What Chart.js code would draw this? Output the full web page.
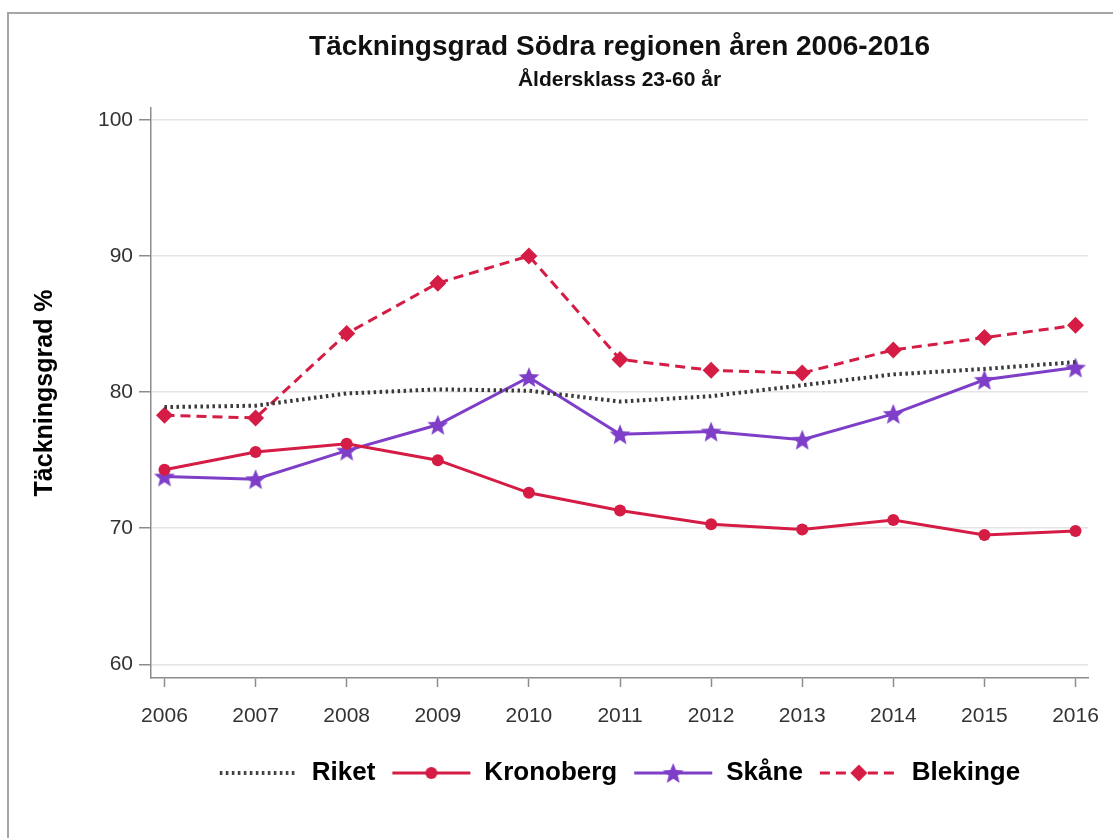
<!DOCTYPE html>
<html><head><meta charset="utf-8">
<script src="https://cdn.jsdelivr.net/npm/chart.js@4"></script>
<style>
html,body{margin:0;padding:0;background:#fff;}
#wrap{position:relative;width:1113px;height:838px;overflow:hidden;}
#frame{position:absolute;left:7px;top:12px;right:-10px;bottom:-10px;border-top:2px solid #a6a6a6;border-left:2px solid #a6a6a6;pointer-events:none;}
canvas{position:absolute;left:0;top:0;}
</style></head><body>
<div id="wrap"><canvas id="c" width="1113" height="838"></canvas><div id="frame"></div></div>
<script>
const years = [2006, 2007, 2008, 2009, 2010, 2011, 2012, 2013, 2014, 2015, 2016];
const yTicks = [60, 70, 80, 90, 100];
const riket      = [78.9, 79.0, 79.9, 80.2, 80.1, 79.3, 79.7, 80.5, 81.3, 81.7, 82.2];
const kronoberg  = [74.3, 75.6, 76.2, 75.0, 72.6, 71.3, 70.3, 69.9, 70.6, 69.5, 69.8];
const skane      = [73.8, 73.6, 75.7, 77.6, 81.1, 76.9, 77.1, 76.5, 78.4, 80.9, 81.8];
const blekinge   = [78.3, 78.1, 84.3, 88.0, 90.0, 82.4, 81.6, 81.4, 83.1, 84.0, 84.9];
const seriesNames = ['Riket', 'Kronoberg', 'Skåne', 'Blekinge'];

const RED = '#d41c44';
const PURPLE = '#7e3ec8';
const DOT = '#3a3a3a';

function starPath(ctx, cx, cy, outer, inner) {
  ctx.beginPath();
  for (let i = 0; i < 10; i++) {
    const r = i % 2 ? inner : outer;
    const a = -Math.PI / 2 + i * Math.PI / 5;
    ctx.lineTo(cx + r * Math.cos(a), cy + r * Math.sin(a));
  }
  ctx.closePath();
}
function starCanvas(color, outer, inner) {
  const c = document.createElement('canvas');
  const s = Math.ceil(outer * 2 + 2);
  c.width = s; c.height = s;
  const ctx = c.getContext('2d');
  starPath(ctx, s / 2, s / 2 + 1, outer, inner);
  ctx.fillStyle = color; ctx.fill();
  return c;
}
function legendSample(color, width, dash, marker) {
  const c = document.createElement('canvas');
  c.width = 80; c.height = 24;
  const ctx = c.getContext('2d');
  ctx.strokeStyle = color; ctx.lineWidth = width; ctx.setLineDash(dash);
  ctx.beginPath(); ctx.moveTo(1, 12); ctx.lineTo(79, 12); ctx.stroke();
  ctx.setLineDash([]);
  ctx.fillStyle = color;
  if (marker === 'circle') { ctx.beginPath(); ctx.arc(40, 12, 6, 0, Math.PI * 2); ctx.fill(); }
  if (marker === 'star') { starPath(ctx, 40, 13, 11, 4.8); ctx.fill(); }
  if (marker === 'diamond') { ctx.beginPath(); ctx.moveTo(40, 3.5); ctx.lineTo(48.5, 12); ctx.lineTo(40, 20.5); ctx.lineTo(31.5, 12); ctx.closePath(); ctx.fill(); }
  return c;
}
const starImg = starCanvas(PURPLE, 11, 4.8);
const legendImgs = [
  legendSample(DOT, 4, [2.5, 3.5], null),
  legendSample(RED, 3, [], 'circle'),
  legendSample(PURPLE, 3, [], 'star'),
  legendSample(RED, 3, [10, 6], 'diamond')
];
const pts = arr => years.map((y, i) => ({ x: y, y: arr[i] }));

new Chart(document.getElementById('c'), {
  type: 'line',
  data: {
    datasets: [
      { label: seriesNames[0], data: pts(riket), borderColor: DOT, borderWidth: 4, borderDash: [2.5, 3.5], pointRadius: 0, fill: false },
      { label: seriesNames[1], data: pts(kronoberg), borderColor: RED, backgroundColor: RED, borderWidth: 3, pointStyle: 'circle', pointRadius: 6, pointBorderWidth: 0, fill: false },
      { label: seriesNames[2], data: pts(skane), borderColor: PURPLE, backgroundColor: PURPLE, borderWidth: 3, pointStyle: starImg, pointRadius: 11, fill: false },
      { label: seriesNames[3], data: pts(blekinge), borderColor: RED, backgroundColor: RED, borderWidth: 3, borderDash: [10, 6], pointStyle: 'rectRot', pointRadius: 8.5, pointBorderWidth: 0, fill: false }
    ]
  },
  options: {
    responsive: false,
    animation: false,
    devicePixelRatio: 1,
    font: { family: "'Liberation Sans', Arial, sans-serif" },
    layout: { padding: { top: 20, left: 8, right: 25, bottom: 42 } },
    plugins: {
      tooltip: { enabled: false },
      title: { display: true, fullSize: false, text: 'Täckningsgrad Södra regionen åren 2006-2016', color: '#111', font: { size: 28, weight: 'bold' }, padding: { top: 10, bottom: 0 } },
      subtitle: { display: true, fullSize: false, text: 'Åldersklass 23-60 år', color: '#111', font: { size: 21, weight: 'bold' }, padding: { top: 4, bottom: 15 } },
      legend: {
        position: 'bottom', fullSize: false,
        labels: {
          usePointStyle: true, pointStyleWidth: 80, boxHeight: 26, padding: 16,
          color: '#000', font: { size: 26, weight: 'bold' },
          generateLabels: chart => chart.data.datasets.map((ds, i) => ({
            text: ds.label, pointStyle: legendImgs[i], fillStyle: ds.borderColor, strokeStyle: ds.borderColor,
            lineWidth: 0, hidden: false, datasetIndex: i, fontColor: '#000'
          }))
        }
      }
    },
    scales: {
      x: {
        type: 'linear', min: 2005.852, max: 2016.137,
        afterBuildTicks: s => { s.ticks = years.map(v => ({ value: v })); },
        afterFit: s => { s.height = 66; },
        ticks: { font: { size: 21, lineHeight: 1.65 }, color: '#333', padding: 12, maxRotation: 0, autoSkip: false, callback: v => String(v) },
        grid: { drawOnChartArea: false, drawTicks: true, tickLength: 9, tickColor: '#8c8c8c', tickWidth: 1.5 },
        border: { color: '#8c8c8c', width: 1.5 }
      },
      y: {
        min: 59.0, max: 100.88,
        afterBuildTicks: s => { s.ticks = yTicks.map(v => ({ value: v })); },
        afterFit: s => { s.width = 143; },
        ticks: { font: { size: 21 }, color: '#333', padding: 6, callback: v => String(v) },
        grid: { color: '#e4e4e4', lineWidth: 1.5, tickColor: '#8c8c8c', tickLength: 12, tickWidth: 1.5 },
        border: { color: '#8c8c8c', width: 1.5 },
        title: { display: true, text: 'Täckningsgrad %', color: '#000', font: { size: 25, weight: 'bold' }, padding: { top: 22, bottom: 0 } }
      }
    }
  }
});
</script>
</body></html>
